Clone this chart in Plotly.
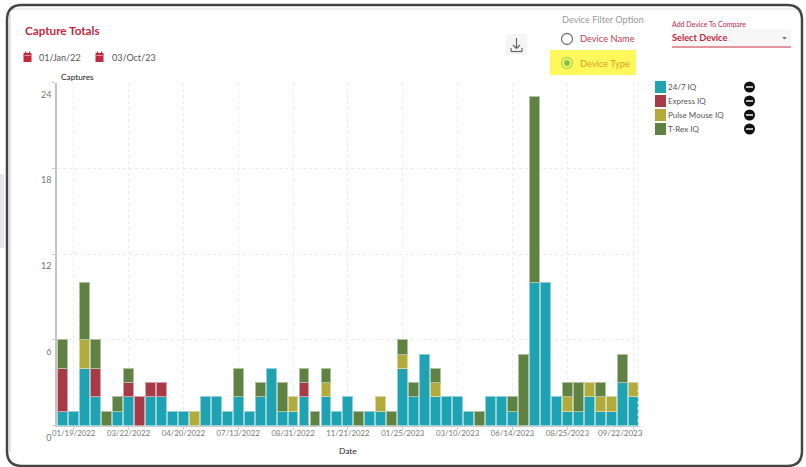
import plotly.graph_objects as go

W, H = 806, 467

blue  = [1,1,4,2,0,1,2,0,2,2,1,1,0,2,2,1,2,1,2,4,1,1,2,0,2,1,2,0,1,1,0,4,2,5,2,2,2,1,0,2,2,1,0,10,10,2,1,1,2,1,1,3,2]
red   = [3,0,0,2,0,0,1,2,1,1,0,0,0,0,0,0,0,0,0,0,0,0,1,0,0,0,0,0,0,0,0,0,0,0,0,0,0,0,0,0,0,0,0,0,0,0,0,0,0,0,0,0,0]
pulse = [0,0,2,0,0,0,0,0,0,0,0,0,1,0,0,0,0,0,0,0,0,1,0,0,1,0,0,0,0,1,0,1,0,0,1,0,0,0,0,0,0,0,0,0,0,0,1,0,1,1,1,0,1]
trex  = [2,0,4,2,1,1,1,0,0,0,0,0,0,0,0,0,2,0,1,0,2,0,1,1,1,0,0,1,0,0,1,1,1,0,1,0,0,0,1,0,0,1,5,13,0,0,1,2,0,1,0,2,0]

series_names = ["24/7 IQ", "Express IQ", "Pulse Mouse IQ", "T-Rex IQ"]
series_values = [blue, red, pulse, trex]
series_colors = ["#1fa3b3", "#a63a47", "#b0ab3c", "#5f8243"]
series_edges = ["#8fd2da", "#d6a0a6", "#d8d59f", "#afc1a2"]

tick_positions = [1, 6, 11, 16, 21, 26, 31, 36, 41, 46, 52]
tick_labels = ["01/19/2022", "03/22/2022", "04/20/2022", "07/13/2022", "08/31/2022",
               "11/21/2022", "01/25/2023", "03/10/2023", "06/14/2023", "08/25/2023", "09/22/2023"]
y_ticks = [0, 6, 12, 18, 24]

FONT = "Lato"
RED = "#c2293f"


def px(x):
    return x / W


def py(y):
    return 1 - y / H


def rect(x0, y0, x1, y1, fill, line=None, lw=0, layer="below"):
    return dict(type="rect", xref="paper", yref="paper", x0=px(x0), x1=px(x1), y0=py(y0), y1=py(y1),
                fillcolor=fill, line=dict(color=line or fill, width=lw), layer=layer)


def circle(cx, cy, r, fill, line=None, lw=0, layer="above"):
    return dict(type="circle", xref="paper", yref="paper", x0=px(cx - r), x1=px(cx + r), y0=py(cy - r), y1=py(cy + r),
                fillcolor=fill, line=dict(color=line or fill, width=lw), layer=layer)


def seg(x0, y0, x1, y1, color, lw=1, dash=None, layer="above"):
    return dict(type="line", xref="paper", yref="paper", x0=px(x0), x1=px(x1), y0=py(y0), y1=py(y1),
                line=dict(color=color, width=lw, dash=dash or "solid"), layer=layer)


def rounded(x0, y0, x1, y1, r, color, lw):
    def p(x, y):
        return f"{px(x):.5f},{py(y):.5f}"
    path = (f"M {p(x0 + r, y0)} L {p(x1 - r, y0)} Q {p(x1, y0)} {p(x1, y0 + r)} "
            f"L {p(x1, y1 - r)} Q {p(x1, y1)} {p(x1 - r, y1)} L {p(x0 + r, y1)} "
            f"Q {p(x0, y1)} {p(x0, y1 - r)} L {p(x0, y0 + r)} Q {p(x0, y0)} {p(x0 + r, y0)} Z")
    return dict(type="path", xref="paper", yref="paper", path=path, line=dict(color=color, width=lw),
                fillcolor="rgba(0,0,0,0)", layer="below")


def text(x, y, s, size=10, color="#555", anchor="left", bold=False):
    # annotations carry about 2px of inner padding, taken off here
    return dict(xref="paper", yref="paper", x=px(x - (2 if anchor == "left" else 0)), y=py(y),
                text=f"<b>{s}</b>" if bold else s,
                showarrow=False, xanchor=anchor, yanchor="middle",
                font=dict(family=FONT, size=size, color=color))


fig = go.Figure()
xs = list(range(len(blue)))
for name, vals, col, edge in zip(series_names, series_values, series_colors, series_edges):
    fig.add_bar(x=xs, y=[v if v else None for v in vals], name=name,
                marker=dict(color=col, line=dict(color=edge, width=1)))

shapes = [
    rect(0, 174, 4, 248, "#e3e9ea"),
    rect(10, 8, 799, 10, "#eeeeee"),
    seg(10, 14, 10, 452, "#dddddd", 1.5, layer="below"),
    rounded(7, 5, 802, 466, 15, "#454545", 2.5),
    seg(638, 83, 638, 425, "#ececec", 1, "dot"),
    # download button
    rect(506, 34, 527, 55, "#f5f5f5"),
    seg(516.5, 38, 516.5, 48, "#666", 1.2), seg(513, 45, 516.5, 48.5, "#666", 1.2), seg(520, 45, 516.5, 48.5, "#666", 1.2),
    seg(511, 48, 511, 51.5, "#666", 1.2), seg(511, 51.5, 522, 51.5, "#666", 1.2), seg(522, 48, 522, 51.5, "#666", 1.2),
    # highlight and radios
    rect(550, 50, 636, 75, "#fff85c"),
    circle(567, 39, 5.5, "#ffffff", "#777777", 1.3),
    circle(567, 63, 5.5, "rgba(0,0,0,0)", "#a4d65e", 1.3),
    circle(567, 63, 3, "#8cc152"),
    # selector
    rect(672, 29, 791, 46, "#f7f7f8"),
    seg(672, 47, 791, 47, "#d9707f", 1.5),
    dict(type="path", xref="paper", yref="paper", fillcolor="#777", line=dict(color="#777", width=0),
         path=f"M {px(782)},{py(37)} L {px(787)},{py(37)} L {px(784.5)},{py(39.5)} Z"),
]
# calendar icons
for cx in (27.5, 99.5):
    shapes += [rect(cx - 4, 53, cx + 4, 62, RED), seg(cx - 2, 51.5, cx - 2, 54, RED, 1.2), seg(cx + 2, 51.5, cx + 2, 54, RED, 1.2),
               seg(cx - 3, 55.5, cx + 3, 55.5, "#f3c7cf", 0.7)]
# legend swatches and remove buttons
legend_rows = [87, 101, 115, 129]
for row, col in zip(legend_rows, series_colors):
    shapes += [rect(655, row - 6, 666, row + 6, col), circle(749.5, row, 5.5, "#111111"),
               seg(746, row, 753, row, "#ffffff", 1.4)]

annotations = [
    text(25, 30, "Capture Totals", 11.7, RED, bold=True),
    text(39, 57, "01/Jan/22", 9, "#555"),
    text(112, 57, "03/Oct/23", 9, "#555"),
    text(562, 20, "Device Filter Option", 9.2, "#999"),
    text(580, 39, "Device Name", 9.3, "#c4404f"),
    text(580, 63, "Device Type", 9.3, "#dca12c"),
    text(672, 24, "Add Device To Compare", 7, RED),
    text(672, 37, "Select Device", 9.2, RED, bold=True),
    text(61, 76.5, "Captures", 8.3, "#222"),
    text(347.5, 451, "Date", 8.3, "#222", "center"),
]
for row, name in zip(legend_rows, series_names):
    annotations.append(text(667.5, row, name, 8, "#555"))
# the last date label sits left of its tick so that it stays inside the chart
annotations.append(dict(x=tick_positions[-1], xref="x", y=py(432.5), yref="paper", text=tick_labels[-1], xshift=-13,
                        showarrow=False, xanchor="center", yanchor="middle",
                        font=dict(family=FONT, size=8, color="#777")))

fig.update_layout(
    width=W, height=H, autosize=False, barmode="stack", bargap=0.1, showlegend=False,
    margin=dict(l=0, r=0, t=0, b=0, pad=0, autoexpand=False), paper_bgcolor="#ffffff", plot_bgcolor="rgba(0,0,0,0)",
    font=dict(family=FONT), shapes=shapes, annotations=annotations,
    xaxis=dict(domain=[px(57.2), px(638.6)], range=[-0.5, 52.5], tickmode="array", tickvals=tick_positions,
               ticktext=tick_labels[:-1] + [""], ticks="outside", ticklen=3, tickcolor="#cccccc",
               ticklabelstandoff=-3,
               tickfont=dict(family=FONT, size=7.8, color="#777"), showgrid=True, gridcolor="#ececec",
               griddash="dot", showline=True, linecolor="#cccccc", linewidth=1, zeroline=False, automargin=False),
    yaxis=dict(domain=[py(425.5), py(82.5)], range=[0, 24], tickmode="array", tickvals=y_ticks,
               ticks="outside", ticklen=3, tickcolor="#cccccc", ticklabelshift=12, ticklabelstandoff=-1,
               tickfont=dict(family=FONT, size=9, color="#777"), showgrid=True, gridcolor="#ececec",
               griddash="dot", showline=True, linecolor="#c4c4c4", linewidth=2, zeroline=False, automargin=False),
)

fig.write_html("out.html", config=dict(displayModeBar=False),
               post_script="document.body.style.margin='0';")
